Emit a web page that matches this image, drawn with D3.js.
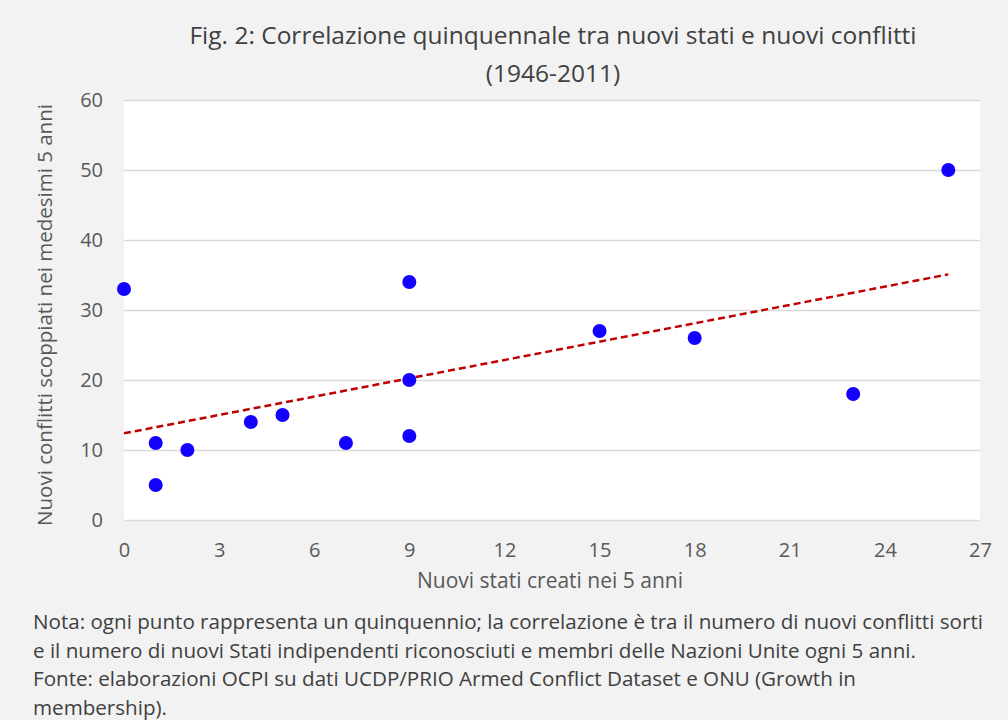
<!DOCTYPE html>
<html>
<head>
  <meta charset="utf-8">
  <title>Correlazione quinquennale</title>
  <script src="https://d3js.org/d3.v7.min.js"></script>
  <style>
    body {
      margin: 0;
      background: #f2f2f2;
    }
    svg text {
      font-family: "Open Sans", Lato, sans-serif;
    }
  </style>
</head>
<body>
  <div id="chart"></div>
  <script>
    // nuovi stati (x) e nuovi conflitti (y) per quinquennio
    var newStates    = [0, 1, 1, 2, 4, 5, 7, 9, 9, 9, 15, 18, 23, 26];
    var newConflicts = [33, 11, 5, 10, 14, 15, 11, 34, 20, 12, 27, 26, 18, 50];
    var xTicks = [0, 3, 6, 9, 12, 15, 18, 21, 24, 27];
    var yTicks = [0, 10, 20, 30, 40, 50, 60];
    var titleLines = ["Fig. 2: Correlazione quinquennale tra nuovi stati e nuovi conflitti", "(1946-2011)"];
    var noteLines = [
      "Nota: ogni punto rappresenta un quinquennio; la correlazione è tra il numero di nuovi conflitti sorti",
      "e il numero di nuovi Stati indipendenti riconosciuti e membri delle Nazioni Unite ogni 5 anni.",
      "Fonte: elaborazioni OCPI su dati UCDP/PRIO Armed Conflict Dataset e ONU (Growth in",
      "membership)."
    ];

    var data = newStates.map(function(d, i) { return {x: d, y: newConflicts[i]}; });

    var svg = d3.select("#chart")
      .append("svg")
      .attr("width", 1008)
      .attr("height", 720);

    var margin = {top: 100, right: 28, bottom: 200, left: 124};
    var width = 1008 - margin.left - margin.right;
    var height = 720 - margin.top - margin.bottom;

    var x = d3.scaleLinear().domain([0, 27]).range([0, width]);
    var y = d3.scaleLinear().domain([0, 60]).range([height, 0]);

    var g = svg.append("g")
      .attr("transform", "translate(" + margin.left + "," + margin.top + ")");

    // plot area
    g.append("rect")
      .attr("width", width)
      .attr("height", height)
      .attr("fill", "#ffffff");

    // horizontal gridlines
    g.append("g")
      .call(d3.axisLeft(y).tickValues(yTicks).tickSize(-width).tickFormat(""))
      .call(function(a) {
        a.select(".domain").remove();
        a.selectAll("line").attr("stroke", "#d9d9d9").attr("stroke-width", 1.3);
      });

    // y tick labels
    g.append("g")
      .call(d3.axisLeft(y).tickValues(yTicks).tickSize(0).tickPadding(21))
      .call(function(a) {
        a.select(".domain").remove();
        a.selectAll("text").attr("fill", "#595959").style("font-size", "20px");
      });

    // x tick labels
    g.append("g")
      .attr("transform", "translate(0," + height + ")")
      .call(d3.axisBottom(x).tickValues(xTicks).tickSize(0).tickPadding(23))
      .call(function(a) {
        a.select(".domain").remove();
        a.selectAll("text").attr("fill", "#595959").style("font-size", "20px");
      });

    // linear trend (least squares)
    var mx = d3.mean(data, function(d) { return d.x; });
    var my = d3.mean(data, function(d) { return d.y; });
    var sxy = d3.sum(data, function(d) { return (d.x - mx) * (d.y - my); });
    var sxx = d3.sum(data, function(d) { return (d.x - mx) * (d.x - mx); });
    var slope = sxy / sxx;
    var intercept = my - slope * mx;
    var xExt = d3.extent(data, function(d) { return d.x; });
    var trend = xExt.map(function(v) { return {x: v, y: intercept + slope * v}; });

    var line = d3.line()
      .x(function(d) { return x(d.x); })
      .y(function(d) { return y(d.y); });

    g.append("path")
      .datum(trend)
      .attr("d", line)
      .attr("fill", "none")
      .attr("stroke", "#c00000")
      .attr("stroke-width", 2.5)
      .attr("stroke-dasharray", "7,4");

    g.selectAll(".point")
      .data(data)
      .enter()
      .append("circle")
      .attr("class", "point")
      .attr("cx", function(d) { return x(d.x); })
      .attr("cy", function(d) { return y(d.y); })
      .attr("r", 7)
      .attr("fill", "#1400ff");

    // title
    svg.selectAll(".title")
      .data(titleLines)
      .enter()
      .append("text")
      .attr("class", "title")
      .attr("x", 553)
      .attr("y", function(d, i) { return 44 + i * 38; })
      .attr("text-anchor", "middle")
      .attr("fill", "#404040")
      .style("font-size", "24.5px")
      .text(function(d) { return d; });

    // axis titles
    svg.append("text")
      .attr("x", 550)
      .attr("y", 588)
      .attr("text-anchor", "middle")
      .attr("fill", "#595959")
      .style("font-size", "21px")
      .text("Nuovi stati creati nei 5 anni");

    svg.append("text")
      .attr("transform", "translate(52,315) rotate(-90)")
      .attr("text-anchor", "middle")
      .attr("fill", "#595959")
      .style("font-size", "20.5px")
      .text("Nuovi conflitti scoppiati nei medesimi 5 anni");

    // note
    svg.selectAll(".note")
      .data(noteLines)
      .enter()
      .append("text")
      .attr("class", "note")
      .attr("x", 33)
      .attr("y", function(d, i) { return 629 + i * 28.5; })
      .attr("fill", "#404040")
      .style("font-size", "20.6px")
      .text(function(d) { return d; });
  </script>
</body>
</html>
